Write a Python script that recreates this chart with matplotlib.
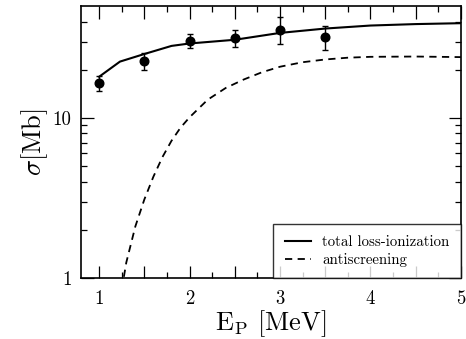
import matplotlib
matplotlib.use('Agg')
import matplotlib.pyplot as plt
from matplotlib.ticker import FixedLocator, MultipleLocator, FuncFormatter, NullFormatter

plt.rcParams['font.family'] = 'cmr10'
plt.rcParams['mathtext.fontset'] = 'cm'
plt.rcParams['axes.formatter.use_mathtext'] = True

# measured points with error bars
e_data = [1.0, 1.5, 2.0, 2.5, 3.0, 3.5]
sigma_data = [16.5, 22.7, 30.3, 31.5, 35.5, 32.2]
err_lo = [1.8, 2.7, 3.0, 3.6, 6.5, 5.6]
err_hi = [1.8, 2.9, 3.1, 3.7, 7.1, 5.4]

# total loss-ionization curve
e_total = [1.0, 1.23, 1.5, 1.8, 2.0, 2.5, 3.0, 3.5, 4.0, 4.5, 5.0]
sigma_total = [18.1, 22.5, 25.1, 28.2, 29.2, 30.8, 34.0, 36.2, 37.8, 38.6, 39.1]

# antiscreening curve
e_anti = [1.25, 1.3, 1.4, 1.5, 1.6, 1.7, 1.8, 1.9, 2.0, 2.2, 2.4, 2.6, 2.8,
          3.0, 3.25, 3.5, 3.75, 4.0, 4.5, 5.0]
sigma_anti = [0.85, 1.25, 2.1, 3.1, 4.3, 5.7, 7.2, 8.7, 10.1, 13.0, 15.4, 17.4,
              19.3, 20.9, 22.3, 23.2, 23.8, 24.1, 24.2, 24.0]

fig = plt.figure(figsize=(4.66, 3.39), dpi=100)
ax = fig.add_axes([0.174, 0.18, 0.815, 0.802])

ax.plot(e_total, sigma_total, color='black', lw=1.5, label='total loss-ionization')
ax.plot(e_anti, sigma_anti, color='black', lw=1.3, ls=(0, (4, 3)), label='antiscreening')
ax.errorbar(e_data, sigma_data, yerr=[err_lo, err_hi], fmt='o', color='black',
            ms=6.2, elinewidth=1.0, capsize=2.5, capthick=1.0)

ax.set_yscale('log')
ax.set_xlim(0.8, 5)
ax.set_ylim(1, 50)

ax.xaxis.set_major_locator(MultipleLocator(0.5))
ax.xaxis.set_minor_locator(MultipleLocator(0.25))
ax.xaxis.set_major_formatter(FuncFormatter(lambda v, p: '%d' % v if abs(v - round(v)) < 1e-6 else ''))
ax.yaxis.set_major_locator(FixedLocator([1, 10]))
ax.yaxis.set_minor_locator(FixedLocator([2, 3, 4, 5, 6, 7, 8, 9, 20, 30, 40]))
ax.yaxis.set_major_formatter(FuncFormatter(lambda v, p: '%d' % v))
ax.yaxis.set_minor_formatter(NullFormatter())

ax.tick_params(which='both', direction='in', top=True, right=True, labelsize=13.5, width=0.9)
ax.tick_params(which='major', length=9)
ax.tick_params(which='minor', length=4.5)
ax.tick_params(axis='x', pad=9)
ax.tick_params(axis='y', pad=7)
for s in ax.spines.values():
    s.set_linewidth(1.2)

ax.set_xlabel(r'$\mathrm{E_P}$ [MeV]', fontsize=19, labelpad=0)
ax.set_ylabel(r'$\sigma$[Mb]', fontsize=19, labelpad=2)

leg = ax.legend(loc='lower right', fontsize=10.7, frameon=True, fancybox=False,
                edgecolor='black', borderaxespad=0, handlelength=1.8,
                borderpad=0.75, labelspacing=0.25, handletextpad=0.75)
leg.get_frame().set_linewidth(1.0)

fig.savefig('out.png', dpi=100)
